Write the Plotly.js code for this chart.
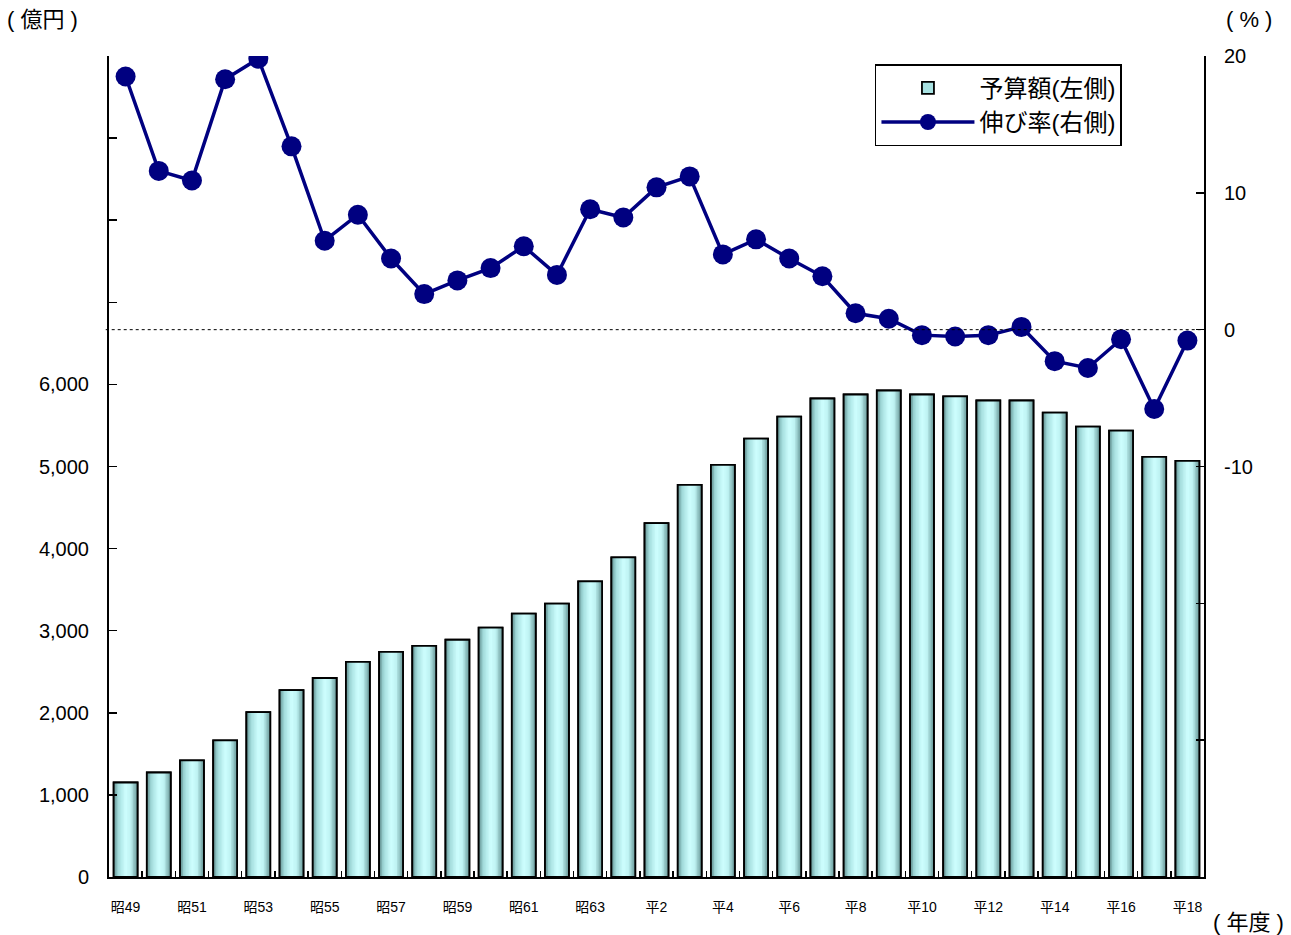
<!DOCTYPE html>
<html><head><meta charset="utf-8">
<script src="https://cdn.plot.ly/plotly-3.0.1.min.js"></script>
<style>html,body{margin:0;padding:0;background:#fff}#chart{width:1291px;height:935px}</style>
</head><body><div id="chart"></div>
<script>
const years = ['昭49','昭50','昭51','昭52','昭53','昭54','昭55','昭56','昭57','昭58','昭59','昭60','昭61','昭62','昭63',
  '平1','平2','平3','平4','平5','平6','平7','平8','平9','平10','平11','平12','平13','平14','平15','平16','平17','平18'];
const tickLabels = ['昭49','','昭51','','昭53','','昭55','','昭57','','昭59','','昭61','','昭63',
  '','平2','','平4','','平6','','平8','','平10','','平12','','平14','','平16','','平18'];
const budget = [1151,1273,1420,1665,2008,2277,2424,2620,2743,2816,2890,3037,3208,3330,3600,
  3894,4310,4775,5020,5339,5608,5828,5877,5926,5877,5853,5804,5804,5657,5486,5437,5118,5069];
const growth = [18.5,11.6,10.9,18.3,19.8,13.4,6.5,8.4,5.2,2.6,3.6,4.5,6.1,4.0,8.8,
  8.2,10.4,11.2,5.5,6.6,5.2,3.9,1.2,0.8,-0.4,-0.5,-0.4,0.2,-2.3,-2.8,-0.7,-5.8,-0.8];
const leftTicks = [0,1000,2000,3000,4000,5000,6000,7000,8000,9000,10000];
const leftTickText = ['0','1,000','2,000','3,000','4,000','5,000','6,000','','','',''];
const rightTicks = [-40,-30,-20,-10,0,10,20];
const rightTickText = ['','','','-10','0','10','20'];

const FONT = 'Liberation Sans, Arial, Noto Sans CJK JP, sans-serif';
const BW = 0.72, NSTRIP = 16;
const stops = [[0,[88,132,132]],[0.18,[160,218,218]],[0.5,[206,255,255]],[0.72,[190,242,242]],[1,[100,148,148]]];
function grad(t){
  for(let i=0;i<stops.length-1;i++){
    const [t0,c0]=stops[i],[t1,c1]=stops[i+1];
    if(t<=t1){const f=(t-t0)/(t1-t0);return 'rgb('+c0.map((v,j)=>Math.round(v+(c1[j]-v)*f)).join(',')+')';}
  }
  return 'rgb(100,148,148)';
}
const traces = [];
// base bar (carries the legend entry)
traces.push({type:'bar',x:years,y:budget,offset:-BW/2,width:BW,name:'予算額(左側)',
  marker:{color:'#a8e2e2',line:{color:'#000',width:1.8}},showlegend:true});
for(let k=0;k<NSTRIP;k++){
  const start=-BW/2+k*BW/NSTRIP;
  traces.push({type:'bar',x:years,y:budget,offset:start,width:BW/2-start,
    marker:{color:grad((k+0.5)/NSTRIP),line:{width:0}},showlegend:false,hoverinfo:'skip'});
}
traces.push({type:'bar',x:years,y:budget,offset:-BW/2,width:BW,
  marker:{color:'rgba(0,0,0,0)',line:{color:'#000',width:1.8}},showlegend:false,hoverinfo:'skip'});
traces.push({type:'scatter',mode:'lines+markers',x:years,y:growth,yaxis:'y2',name:'伸び率(右側)',
  line:{color:'#000080',width:3.5},marker:{color:'#000080',size:20}});

const layout = {
  width:1291,height:935,
  margin:{l:109,r:87,t:56,b:58},
  paper_bgcolor:'#fff',plot_bgcolor:'rgba(0,0,0,0)',
  font:{family:FONT,color:'#000'},
  barmode:'overlay',
  showlegend:true,
  hovermode:false,
  xaxis:{type:'category',categoryorder:'array',categoryarray:years,
    tickmode:'array',tickvals:years,ticktext:tickLabels,tickson:'boundaries',tickangle:0,
    ticks:'inside',ticklen:6,tickwidth:1.5,tickcolor:'#000',
    showline:true,linecolor:'#000',linewidth:2,showgrid:false,zeroline:false,
    tickfont:{size:14},ticklabelstandoff:16,range:[-0.5,32.5]},
  yaxis:{range:[0,10000],tickmode:'array',tickvals:leftTicks,ticktext:leftTickText,
    ticks:'inside',ticklen:8,tickwidth:1.5,tickcolor:'#000',
    showline:true,linecolor:'#000',linewidth:2,showgrid:false,zeroline:false,
    tickfont:{size:20},ticklabelstandoff:14},
  yaxis2:{range:[-40,20],overlaying:'y',side:'right',tickmode:'array',tickvals:rightTicks,ticktext:rightTickText,
    ticks:'inside',ticklen:8,tickwidth:1.5,tickcolor:'#000',
    showline:true,linecolor:'#000',linewidth:2,showgrid:false,zeroline:false,
    tickfont:{size:20},ticklabelstandoff:14},
  legend:{x:0.6995,y:0.99,xanchor:'left',yanchor:'top',bgcolor:'#fff',bordercolor:'#000',borderwidth:1.5,
    font:{size:24},itemwidth:93,traceorder:'normal'},
  shapes:[{type:'line',xref:'paper',x0:-0.003,x1:0.997,yref:'y2',y0:0,y1:0,line:{color:'#000',width:1,dash:'dot'}}],
  annotations:[
    {text:'( 億円 )',xref:'paper',yref:'paper',x:-0.095,y:1.044,xanchor:'left',yanchor:'middle',showarrow:false,font:{size:22}},
    {text:'( % )',xref:'paper',yref:'paper',x:1.041,y:1.044,xanchor:'center',yanchor:'middle',showarrow:false,font:{size:22}},
    {text:'( 年度 )',xref:'paper',yref:'paper',x:1.041,y:-0.055,xanchor:'center',yanchor:'middle',showarrow:false,font:{size:22}}
  ]
};
Plotly.newPlot('chart',traces,layout,{displayModeBar:false,staticPlot:true});
</script></body></html>
